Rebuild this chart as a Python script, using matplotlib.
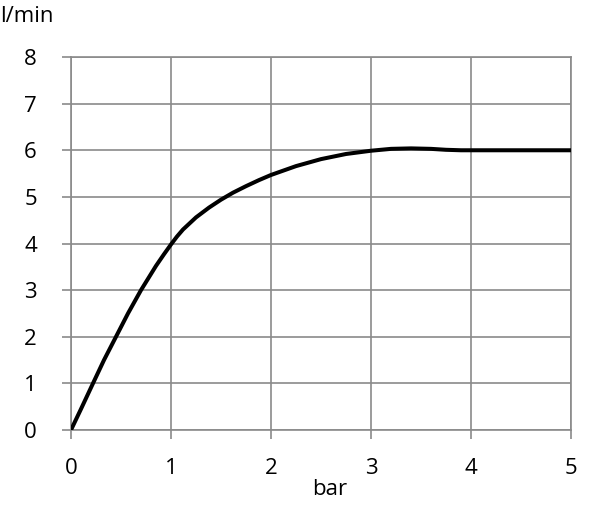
import matplotlib.pyplot as plt

# flow curve
pressure = [0, 0.1, 0.22, 0.33, 0.45, 0.57, 0.70, 0.85, 0.93, 1.0, 1.06, 1.12,
            1.25, 1.38, 1.5, 1.62, 1.75, 1.88, 2.0, 2.25, 2.5, 2.75, 3.0, 3.2,
            3.4, 3.6, 3.75, 3.9, 4.0, 4.5, 5.0]
flow = [0, 0.45, 1.0, 1.5, 2.0, 2.5, 3.0, 3.52, 3.77, 3.98, 4.15, 4.3,
        4.56, 4.77, 4.94, 5.09, 5.23, 5.36, 5.47, 5.66, 5.81, 5.92, 5.99, 6.03,
        6.04, 6.03, 6.01, 6.0, 6.0, 6.0, 6.0]
x_ticks = [0, 1, 2, 3, 4, 5]
y_ticks = [0, 1, 2, 3, 4, 5, 6, 7, 8]

plt.rcParams['font.family'] = ['Open Sans', 'DejaVu Sans']
grid_col = '#8a8a8a'

fig = plt.figure(figsize=(6, 5.05), dpi=100)
ax = fig.add_axes([0.1183, 0.1485, 0.8334, 0.7386])

ax.plot(pressure, flow, color='black', linewidth=2.9, solid_joinstyle='round', zorder=3)

ax.set_xlim(0, 5)
ax.set_ylim(0, 8)
ax.set_xticks(x_ticks)
ax.set_yticks(y_ticks)
ax.grid(True, color=grid_col, linewidth=1.2)
for s in ax.spines.values():
    s.set_color(grid_col)
    s.set_linewidth(1.2)
ax.tick_params(axis='both', color=grid_col, width=1.2, length=6.5,
               labelsize=16, labelcolor='black')
ax.tick_params(axis='y', pad=18)
ax.tick_params(axis='x', pad=14)

fig.text(0.0, 0.968, 'l/min', fontsize=16, ha='left', va='center')
fig.text(0.55, 0.03, 'bar', fontsize=16, ha='center', va='center')

fig.savefig('out.png', dpi=100)
